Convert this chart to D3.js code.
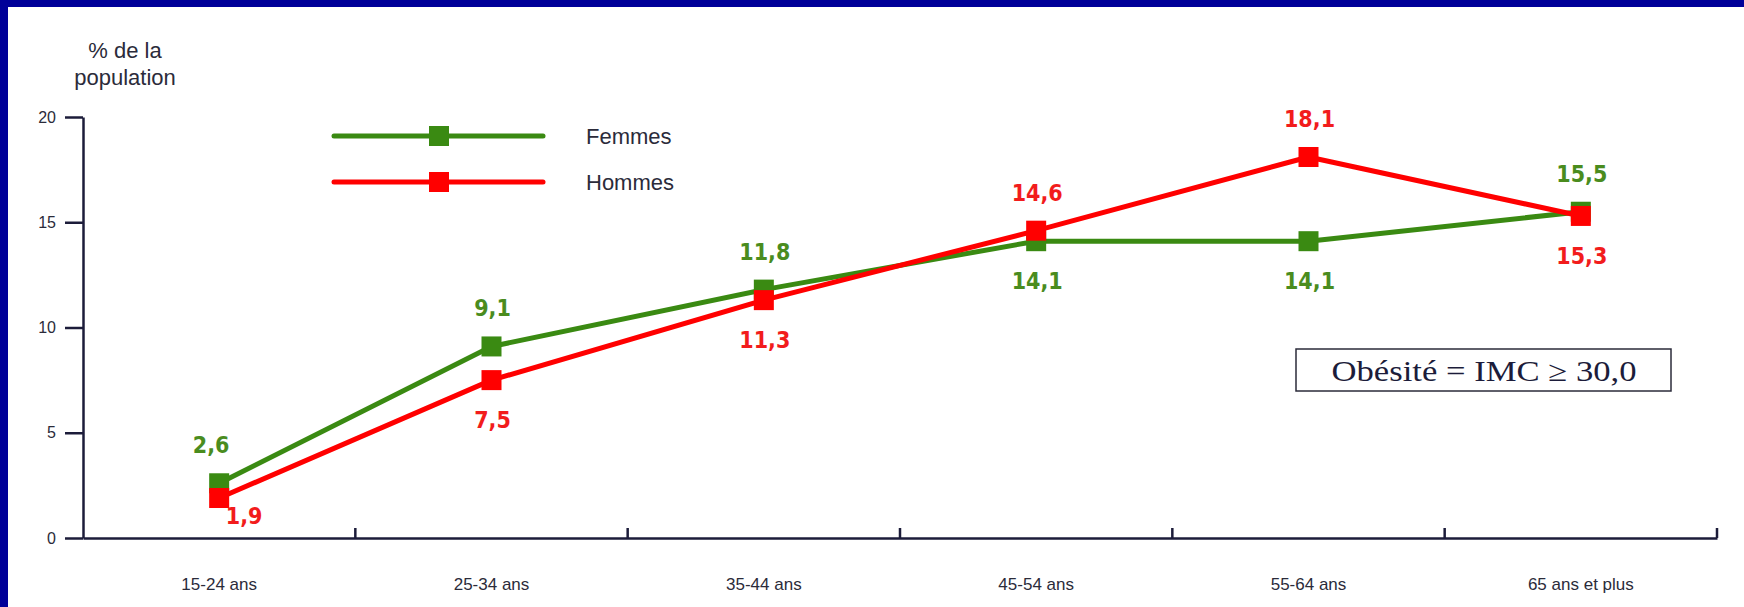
<!DOCTYPE html>
<html>
<head>
<meta charset="utf-8">
<script src="https://cdn.jsdelivr.net/npm/d3@7"></script>
<style>
  body { margin: 0; background: #000099; }
  svg { display: block; }
  .axis text { fill: #2b2b3a; font-family: 'Liberation Sans', Arial, sans-serif; }
  .axis path, .axis line { stroke: #1c1c3a; stroke-width: 2.5; }
  .label { font-family: 'Liberation Sans Narrow', 'DejaVu Sans Condensed', sans-serif; font-weight: bold; font-size: 23px; }
</style>
</head>
<body>
<svg width="1744" height="607"></svg>
<script>
const categories = ['15-24 ans', '25-34 ans', '35-44 ans', '45-54 ans', '55-64 ans', '65 ans et plus'];
const femmes = [2.6, 9.1, 11.8, 14.1, 14.1, 15.5];
const hommes = [1.9, 7.5, 11.3, 14.6, 18.1, 15.3];
const yTicks = [0, 5, 10, 15, 20];

// where each value label sits relative to its point
const femmesPlace = ['above', 'above', 'above', 'below', 'below', 'above'];
const hommesPlace = ['right', 'below', 'below', 'above', 'above', 'below'];

const svg = d3.select('svg');

// white page inside the blue frame (frame only on top and left)
svg.append('rect')
    .attr('x', 8).attr('y', 7)
    .attr('width', 1744).attr('height', 607)
    .attr('fill', '#ffffff');

const x = d3.scaleBand()
    .domain(categories)
    .range([83, 1717])
    .padding(0);

const y = d3.scaleLinear()
    .domain([0, 20])
    .range([538, 117]);

const cx = (c) => x(c) + x.bandwidth() / 2;

// y axis
svg.append('g')
    .attr('class', 'axis')
    .attr('transform', 'translate(83,0)')
    .call(d3.axisLeft(y).tickValues(yTicks).tickSize(18).tickSizeOuter(0).tickPadding(9))
    .call(g => g.selectAll('text').attr('font-size', 16));

// x axis: labels at band centres, ticks at band edges pointing up
const xAxis = svg.append('g')
    .attr('class', 'axis')
    .attr('transform', 'translate(0,538)')
    .call(d3.axisBottom(x).tickSize(0).tickPadding(40))
    .call(g => g.selectAll('text').attr('font-size', 17));

xAxis.selectAll('.edge')
    .data(categories)
    .enter()
    .append('line')
    .attr('class', 'edge')
    .attr('x1', (c) => x(c) + x.bandwidth())
    .attr('x2', (c) => x(c) + x.bandwidth())
    .attr('y1', 0)
    .attr('y2', -10);

// y axis title
svg.append('text')
    .attr('x', 125)
    .attr('text-anchor', 'middle')
    .attr('fill', '#2b2b3a')
    .attr('font-family', "'Liberation Sans', Arial, sans-serif")
    .attr('font-size', 22)
    .selectAll('tspan')
    .data(['% de la', 'population'])
    .enter()
    .append('tspan')
    .attr('x', 125)
    .attr('y', (d, i) => 58 + i * 27)
    .text((d) => d);

const series = [
    { name: 'Femmes', values: femmes, place: femmesPlace, line: '#3a8a12', text: '#4a8c1e' },
    { name: 'Hommes', values: hommes, place: hommesPlace, line: '#ff0000', text: '#f21c1c' }
];

const line = d3.line()
    .x((d, i) => cx(categories[i]))
    .y((d) => y(d));

const sq = 20;

series.forEach((s) => {
    svg.append('path')
        .datum(s.values)
        .attr('d', line)
        .attr('fill', 'none')
        .attr('stroke', s.line)
        .attr('stroke-width', 5)
        .attr('stroke-linejoin', 'round');

    svg.selectAll(null)
        .data(s.values)
        .enter()
        .append('rect')
        .attr('x', (d, i) => cx(categories[i]) - sq / 2)
        .attr('y', (d) => y(d) - sq / 2)
        .attr('width', sq)
        .attr('height', sq)
        .attr('fill', s.line);
});

// value labels on top of everything
series.forEach((s) => {
    svg.selectAll(null)
        .data(s.values)
        .enter()
        .append('text')
        .attr('class', 'label')
        .attr('fill', s.text)
        .attr('text-anchor', 'middle')
        .attr('x', (d, i) => {
            const p = s.place[i];
            if (p === 'right') return cx(categories[i]) + 25;
            return cx(categories[i]) + (i === 0 ? -8 : 1);
        })
        .attr('y', (d, i) => {
            const p = s.place[i];
            if (p === 'above') return y(d) - 30;
            if (p === 'below') return y(d) + 48;
            return y(d) + 26;
        })
        .text((d) => d.toFixed(1).replace('.', ','));
});

// legend
const legend = svg.append('g');
series.forEach((s, i) => {
    const ly = 136 + i * 46;
    legend.append('line')
        .attr('x1', 334).attr('x2', 543)
        .attr('y1', ly).attr('y2', ly)
        .attr('stroke', s.line)
        .attr('stroke-width', 5)
        .attr('stroke-linecap', 'round');
    legend.append('rect')
        .attr('x', 439 - sq / 2).attr('y', ly - sq / 2)
        .attr('width', sq).attr('height', sq)
        .attr('fill', s.line);
    legend.append('text')
        .attr('x', 586).attr('y', ly + 8)
        .attr('fill', '#2b2b3a')
        .attr('font-family', "'Liberation Sans', Arial, sans-serif")
        .attr('font-size', 22)
        .text(s.name);
});

// definition box
svg.append('rect')
    .attr('x', 1296).attr('y', 349)
    .attr('width', 375).attr('height', 42)
    .attr('fill', 'none')
    .attr('stroke', '#2b2b3a')
    .attr('stroke-width', 1.5);

svg.append('text')
    .attr('x', 1484).attr('y', 381)
    .attr('text-anchor', 'middle')
    .attr('fill', '#1c1c3a')
    .attr('font-family', "'Liberation Serif', 'Times New Roman', serif")
    .attr('font-size', 29)
    .attr('textLength', 305)
    .attr('lengthAdjust', 'spacingAndGlyphs')
    .text('Obésité = IMC ≥ 30,0');
</script>
</body>
</html>
